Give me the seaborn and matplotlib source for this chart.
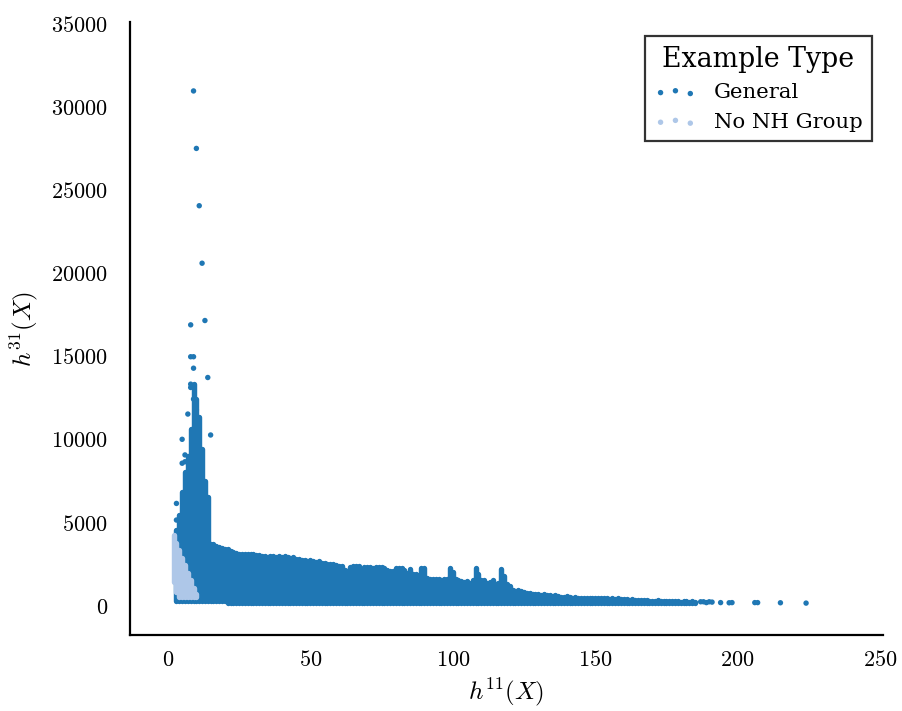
import matplotlib
matplotlib.use("Agg")
import matplotlib.pyplot as plt
import pandas as pd
import seaborn as sns
from matplotlib.ticker import FuncFormatter

# ---------------- data ----------------
# "General": dense columns, one per integer h11, from bottom to top h31
general_col_h11 = list(range(3, 186))
general_col_top = [
    4500, 5400, 6800, 8000, 9000, 10600, 13300, 12400, 11300, 9400,   # 3-12
    7500, 6500, 3700, 3650, 3550, 3500, 3450, 3400, 3350, 3250,       # 13-22
    3200, 3150, 3100, 3100, 3100, 3050, 3050, 3050, 3000, 3000,       # 23-32
    2950, 2950, 2900, 2950, 2950, 2900, 2950, 2900, 2950, 2900,       # 33-42
    2850, 2900, 2800, 2750, 2700, 2700, 2650, 2700, 2650, 2600,       # 43-52
    2650, 2550, 2550, 2500, 2450, 2450, 2400, 2350, 2350, 2100,       # 53-62
    2050, 2300, 2350, 2350, 2350, 2200, 2300, 2300, 2300, 2250,       # 63-72
    2300, 2300, 2300, 2250, 2100, 2050, 2050, 2250, 2250, 2250,       # 73-82
    2100, 1950, 2200, 1900, 1850, 1800, 2250, 2250, 1650, 1550,       # 83-92
    1550, 1600, 1550, 1500, 1550, 1550, 2250, 2000, 1600, 1500,       # 93-102
    1450, 1400, 1450, 1350, 1500, 2250, 1900, 1500, 1500, 1350,       # 103-112
    1400, 1500, 1300, 1350, 2200, 1750, 1300, 1150, 900, 850,         # 113-122
    900, 850, 800, 750, 700, 650, 650, 650, 600, 650,                 # 123-132
    600, 600, 550, 600, 550, 500, 500, 550, 500, 450,                 # 133-142
    500, 450, 450, 450, 400, 450, 400, 400, 400, 450,                 # 143-152
    400, 400, 350, 400, 350, 400, 350, 350, 350, 300,                 # 153-162
    350, 300, 300, 300, 300, 300, 250, 250, 250, 300,                 # 163-172
    250, 250, 250, 250, 250, 250, 250, 200, 250, 250,                 # 173-182
    200, 250, 200,                                                    # 183-185
]
general_col_bottom = (
    [250] * 18      # 3-20
    + [150] * 116   # 21-136
    + [100] * 49    # 137-185
)

# "General": isolated points
general_pt_h11 = [9, 10, 11, 12, 13, 8, 8, 9, 9, 14, 8, 8, 9, 7, 10, 15, 5, 6, 6, 5, 3, 3,
                  187, 188, 189, 190, 191, 194, 197, 198, 206, 207, 215, 224]
general_pt_h31 = [30950, 27490, 24040, 20580, 17130, 16870, 14950, 14950, 14260, 13700,
                  13300, 13100, 12400, 11500, 11750, 10240, 9980, 9040, 8630, 8540, 6120, 5120,
                  200, 200, 150, 200, 180, 150, 140, 150, 150, 150, 140, 120]

# "No NH Group": columns
nonh_col_h11 = [2, 3, 4, 5, 6, 7, 8, 9, 10]
nonh_col_top = [4200, 3750, 3300, 2850, 2400, 1950, 1500, 1050, 650]
nonh_col_bottom = [1400, 800, 500, 480, 480, 480, 480, 480, 480]

type_labels = ["General", "No NH Group"]
x_ticks = [0, 50, 100, 150, 200, 250]
y_ticks = [0, 5000, 10000, 15000, 20000, 25000, 30000, 35000]

# ---------------- style ----------------
sns.set_style("white")
plt.rcParams["font.family"] = ["DejaVu Serif"]
plt.rcParams["mathtext.fontset"] = "cm"
plt.rcParams["text.color"] = "black"
plt.rcParams["axes.labelcolor"] = "black"
plt.rcParams["xtick.color"] = "black"
plt.rcParams["ytick.color"] = "black"

GENERAL_COLOR = "#1f77b4"
NONH_COLOR = "#aec7e8"
palette = {type_labels[0]: GENERAL_COLOR, type_labels[1]: NONH_COLOR}

MARK_PT = 3.9            # marker diameter in points
MARK_S = MARK_PT ** 2    # scatter area

fig = plt.figure(figsize=(9.03, 7.11), dpi=100)
ax = fig.add_axes([130 / 903, (711 - 635) / 711, 753 / 903, 613 / 711])

# dense columns
ax.vlines(general_col_h11, general_col_bottom, general_col_top, colors=GENERAL_COLOR,
          linewidth=MARK_PT, capstyle="round", zorder=2)

pts = pd.DataFrame({
    "h11": general_pt_h11,
    "h31": general_pt_h31,
    "Example Type": [type_labels[0]] * len(general_pt_h11),
})
sns.scatterplot(data=pts, x="h11", y="h31", hue="Example Type", palette=palette,
                s=MARK_S, linewidth=0, legend=False, ax=ax, zorder=2)

ax.vlines(nonh_col_h11, nonh_col_bottom, nonh_col_top, colors=NONH_COLOR,
          linewidth=MARK_PT, capstyle="round", zorder=3)

ax.set_xlim(-13.3, 251)
ax.set_ylim(-1800, 35100)
ax.set_xticks(x_ticks)
ax.set_yticks(y_ticks)
fmt = FuncFormatter(lambda v, p: f"${v:.0f}$")
ax.xaxis.set_major_formatter(fmt)
ax.yaxis.set_major_formatter(fmt)
ax.tick_params(axis="both", length=0, labelsize=16, labelcolor="black")
ax.tick_params(axis="y", pad=16)
ax.tick_params(axis="x", pad=10)

ax.set_xlabel("$h^{11}(X)$", fontsize=18, labelpad=4, color="black")
ax.set_ylabel("$h^{31}(X)$", fontsize=18, labelpad=8, color="black")

sns.despine(ax=ax)
for s in ("left", "bottom"):
    ax.spines[s].set_color("black")
    ax.spines[s].set_linewidth(1.6)

handles = [ax.scatter([], [], s=MARK_S, color=palette[t], linewidth=0) for t in type_labels]
leg = ax.legend(handles, type_labels, title="Example Type", scatterpoints=3,
                loc="upper right", bbox_to_anchor=(742 / 753, (635 - 36) / 613),
                borderaxespad=0, frameon=True, fancybox=False, fontsize=15.3,
                title_fontsize=19.3, handletextpad=0.8, borderpad=0.45,
                labelcolor="black")
leg.get_title().set_color("black")
leg.get_frame().set_edgecolor("black")
leg.get_frame().set_linewidth(1.6)

fig.savefig("out.png", dpi=100)
